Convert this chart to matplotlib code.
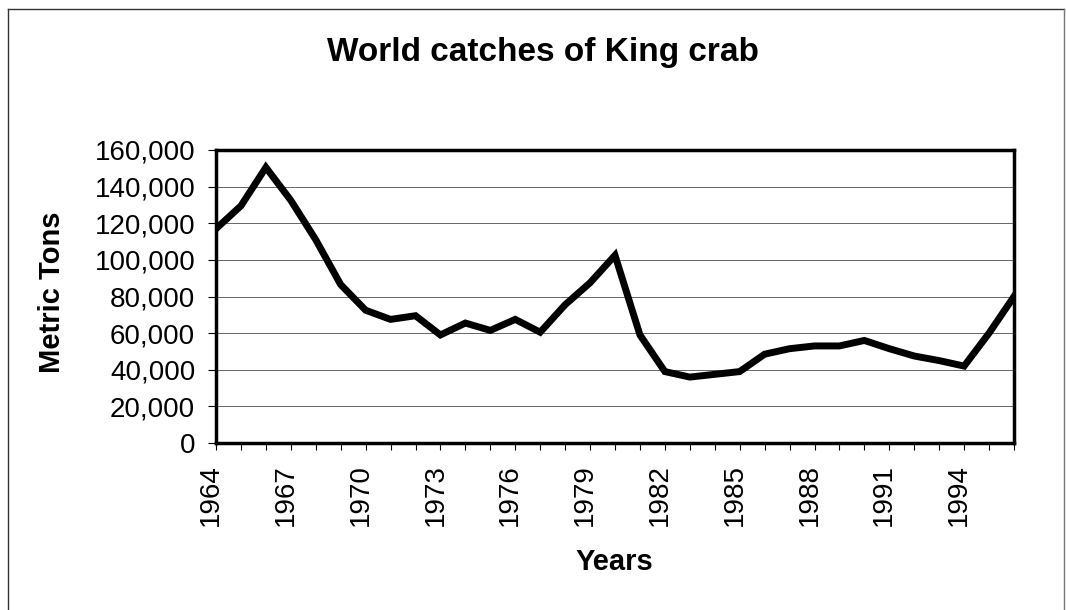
import numpy as np
import matplotlib.pyplot as plt
import matplotlib.transforms as mtransforms
from matplotlib.ticker import FuncFormatter

plt.rcParams['font.family'] = ['Liberation Sans', 'DejaVu Sans']

years = list(range(1964, 1997))
catch = [117000, 129500, 150500, 132500, 111000, 86500, 72500, 67500, 69500,
         59000, 65500, 61500, 67500, 60500, 75500, 87500, 102500, 59000, 39000,
         36000, 37500, 39000, 48500, 51500, 53000, 53000, 56000, 51500, 47500,
         45000, 42000, 60000, 80000]
label_years = years[::3][:11]

fig = plt.figure(figsize=(10.66, 6.10), dpi=100)
ax = fig.add_axes([216/1066, 1 - 443/610, (1014 - 216)/1066, (443 - 150)/610])

# outer chart frame (no bottom edge)
fig.add_artist(plt.Line2D([8/1066, 8/1066], [0, 1 - 9/610], color='#333333', lw=1))
fig.add_artist(plt.Line2D([8/1066, 1064/1066], [1 - 9/610, 1 - 9/610], color='#333333', lw=1))
fig.add_artist(plt.Line2D([1064/1066, 1064/1066], [0, 1 - 9/610], color='#777777', lw=1))

ax.plot(years, catch, color='black', lw=5, solid_joinstyle='miter', zorder=3)

ax.set_xlim(years[0], years[-1])
ax.set_ylim(0, 160000)
ax.set_yticks(np.arange(0, 160001, 20000))
ax.yaxis.set_major_formatter(FuncFormatter(lambda v, p: f'{int(v):,}'))
ax.set_xticks(years, minor=True)
ax.set_xticks(label_years)
ax.set_xticklabels([str(y) for y in label_years], rotation=90)
ax.tick_params(axis='x', which='both', direction='out', length=5, width=0.8, pad=10, labelsize=20)
ax.tick_params(axis='y', direction='out', length=6, width=0.8, pad=9, labelsize=20)
ax.grid(axis='y', color='#666666', lw=0.7, zorder=0)
for s in ax.spines.values():
    s.set_linewidth(2.5)

# year labels sit a little left of their ticks
shift = mtransforms.ScaledTranslation(-5/100, 0, fig.dpi_scale_trans)
for lbl in ax.get_xticklabels():
    lbl.set_transform(lbl.get_transform() + shift)

fig.text(0.5 + 10/1066, 1 - 52/610, 'World catches of King crab', ha='center', va='center',
         fontsize=24, fontweight='bold')
fig.text(52/1066, 1 - 292/610, 'Metric Tons', rotation=90, ha='center', va='center',
         fontsize=21, fontweight='bold')
fig.text(614/1066, 1 - 562/610, 'Years', ha='center', va='center',
         fontsize=21, fontweight='bold')

fig.savefig('out.png', dpi=100)
